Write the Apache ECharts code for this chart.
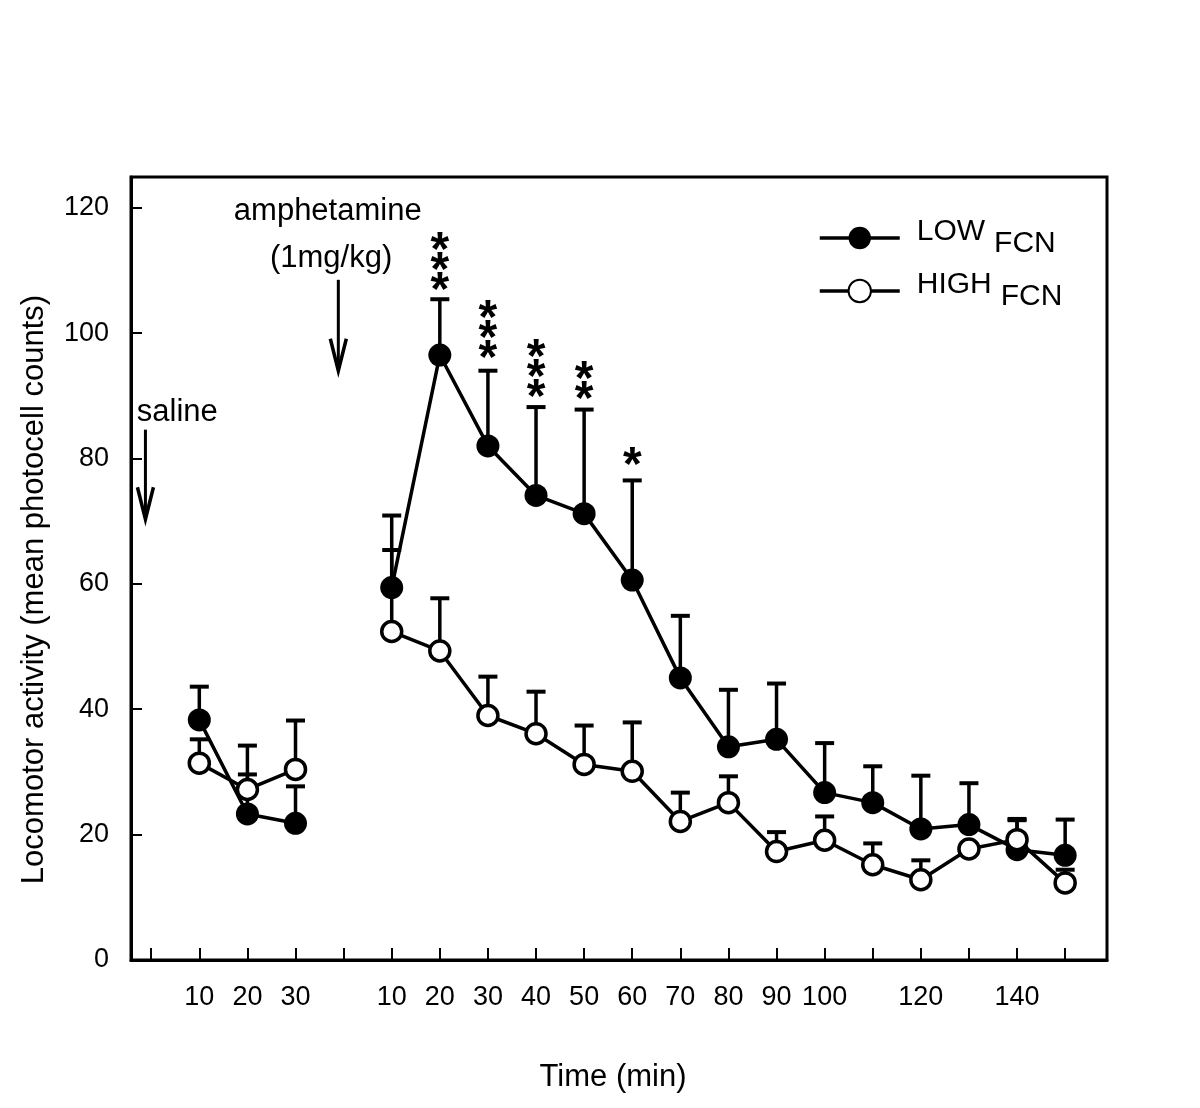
<!DOCTYPE html>
<html>
<head>
<meta charset="utf-8">
<script src="https://cdn.jsdelivr.net/npm/echarts@6/dist/echarts.min.js"></script>
<style>
html,body{margin:0;padding:0;background:#fff;}
#chart{width:1200px;height:1108px;}
</style>
</head>
<body>
<div id="chart"></div>
<script>
// ---------------- DATA ----------------
// x positions on the axis (saline phase 1-3, amphetamine phase 5-19)
const xPos = [1, 2, 3, 5, 6, 7, 8, 9, 10, 11, 12, 13, 14, 15, 16, 17, 18, 19];
// tick label text for tick positions 0..19
const tickLabels = ['', '10', '20', '30', '', '10', '20', '30', '40', '50', '60', '70', '80', '90', '100', '', '120', '', '140', ''];
const yTicks = [0, 20, 40, 60, 80, 100, 120];

const lowMean  = [38.3, 23.3, 21.8, 59.4, 96.5, 82.0, 74.1, 71.2, 60.6, 45.0, 34.0, 35.2, 26.7, 25.1, 20.9, 21.6, 17.6, 16.7];
const lowTop   = [43.6, 29.6, 27.7, 70.9, 105.4, 94.0, 88.2, 87.8, 76.5, 54.9, 43.1, 44.1, 34.6, 30.9, 29.4, 28.2, 22.3, 22.4];
const highMean = [31.4, 27.2, 30.4, 52.4, 49.3, 39.0, 36.1, 31.2, 30.1, 22.1, 25.1, 17.3, 19.1, 15.2, 12.8, 17.7, 19.2, 12.3];
const highTop  = [35.2, 34.2, 38.2, 65.4, 57.7, 45.2, 42.8, 37.4, 37.9, 26.7, 29.3, 20.4, 22.9, 18.6, 15.9, 17.7, 22.5, 14.4];
// significance marks (LOW vs HIGH)
const sigMarks = ['', '', '', '', '***', '***', '***', '**', '*', '', '', '', '', '', '', '', '', ''];
const sigBase  = [0, 0, 0, 0, 108.5, 97.6, 91.5, 91.1, 80.6, 0, 0, 0, 0, 0, 0, 0, 0, 0];

const seriesNames = ['LOW', 'HIGH'];
const nameSub = 'FCN';
const xTitle = 'Time (min)';
const yTitle = 'Locomotor activity (mean photocell counts)';

// ---------------- BUILD ----------------
const FONT = '"Liberation Sans", Arial, sans-serif';
function lineData(means) {
  const out = [];
  xPos.forEach((x, i) => {
    if (i > 0 && x - xPos[i - 1] > 1) out.push([x - 1, '-']);
    out.push([x, means[i]]);
  });
  return out;
}
function errData(means, tops) {
  return xPos.map((x, i) => [x, means[i], tops[i]]);
}
function errRender(params, api) {
  const x = api.value(0);
  const p0 = api.coord([x, api.value(1)]);
  const p1 = api.coord([x, api.value(2)]);
  return {
    type: 'group',
    children: [
      {type: 'line', shape: {x1: p0[0], y1: p0[1], x2: p1[0], y2: p1[1]}, style: {stroke: '#000', lineWidth: 3.5}},
      {type: 'line', shape: {x1: p1[0] - 9.5, y1: p1[1], x2: p1[0] + 9.5, y2: p1[1]}, style: {stroke: '#000', lineWidth: 4}}
    ]
  };
}
const sigData = [];
xPos.forEach((x, i) => { if (sigMarks[i]) sigData.push([x, sigBase[i], sigMarks[i].length]); });

const annotArrows = [[-0.12, 84.6, 70.3], [3.89, 108.5, 94.0]];
const annotTexts = [
  {value: [-0.30, 87.3], text: 'saline', align: 'left'},
  {value: [3.67, 119.4], text: 'amphetamine', align: 'center'},
  {value: [3.74, 111.9], text: '(1mg/kg)', align: 'center'}
];

const chart = echarts.init(document.getElementById('chart'), null, {renderer: 'canvas'});
const option = {
  backgroundColor: '#fff',
  animation: false,
  grid: {left: 131, right: 93, top: 177, bottom: 148, show: true, borderColor: '#000', borderWidth: 3},
  legend: {
    orient: 'vertical',
    left: 813,
    top: 212,
    itemWidth: 80,
    itemHeight: 28,
    itemGap: 11,
    data: seriesNames,
    formatter: function (n) { return '{a|' + n + '}{b|' + nameSub + '}'; },
    lineStyle: {width: 3.5},
    textStyle: {
      fontFamily: FONT, color: '#000',
      rich: {
        a: {fontFamily: FONT, fontSize: 30, color: '#000', lineHeight: 30, verticalAlign: 'top', padding: [0, 9, 0, 12]},
        b: {fontFamily: FONT, fontSize: 30, color: '#000', lineHeight: 42, verticalAlign: 'bottom'}
      }
    }
  },
  xAxis: {
    type: 'value',
    min: -0.42,
    max: 19.87,
    name: xTitle,
    nameLocation: 'middle',
    nameGap: 102,
    nameTextStyle: {fontFamily: FONT, fontSize: 31, color: '#000', padding: [0, 12, 0, 0]},
    axisLine: {show: true, onZero: false, lineStyle: {color: '#000', width: 3}},
    axisTick: {show: true, inside: true, length: 12, lineStyle: {color: '#000', width: 2}, customValues: tickLabels.map((t, i) => i)},
    axisLabel: {
      show: true, margin: 24, fontFamily: FONT, fontSize: 27, color: '#000',
      customValues: tickLabels.map((t, i) => i).filter(i => tickLabels[i] !== ''),
      formatter: function (v) { return tickLabels[Math.round(v)]; }
    },
    splitLine: {show: false}
  },
  yAxis: {
    type: 'value',
    min: 0,
    max: 124.9,
    name: yTitle,
    nameLocation: 'middle',
    nameGap: 81,
    nameTextStyle: {fontFamily: FONT, fontSize: 31, color: '#000', padding: [0, 42, 0, 0]},
    axisLine: {show: true, onZero: false, lineStyle: {color: '#000', width: 3}},
    axisTick: {show: true, inside: true, length: 11, lineStyle: {color: '#000', width: 2}, customValues: yTicks},
    axisLabel: {show: true, margin: 22, fontFamily: FONT, fontSize: 27, color: '#000', customValues: yTicks},
    splitLine: {show: false}
  },
  series: [
    {type: 'custom', name: 'lowErr', data: errData(lowMean, lowTop), renderItem: errRender, z: 2, silent: true},
    {type: 'custom', name: 'highErr', data: errData(highMean, highTop), renderItem: errRender, z: 2, silent: true},
    {
      type: 'line', name: seriesNames[0], data: lineData(lowMean), z: 3,
      symbol: 'circle', symbolSize: 23, showSymbol: true, connectNulls: false,
      lineStyle: {color: '#000', width: 3.5},
      itemStyle: {color: '#000', borderColor: '#000', borderWidth: 0}
    },
    {
      type: 'line', name: seriesNames[1], data: lineData(highMean), z: 4,
      symbol: 'circle', symbolSize: 20, showSymbol: true, connectNulls: false,
      lineStyle: {color: '#000', width: 3.5},
      itemStyle: {color: '#fff', borderColor: '#000', borderWidth: 3.5}
    },
    {
      type: 'custom', name: 'sig', data: sigData, z: 5, silent: true,
      renderItem: function (params, api) {
        const p = api.coord([api.value(0), api.value(1)]);
        const n = api.value(2);
        const kids = [];
        for (let k = 0; k < n; k++) {
          kids.push({type: 'text', x: p[0], y: p[1] - k * 20 + 12,
            style: {text: '*', fontFamily: FONT, fontSize: 48, fontWeight: 'bold', fill: '#000', align: 'center', verticalAlign: 'middle'}});
        }
        return {type: 'group', children: kids};
      }
    },
    {
      type: 'custom', name: 'arrows', data: annotArrows, z: 5, silent: true,
      renderItem: function (params, api) {
        const a = api.coord([api.value(0), api.value(1)]);
        const b = api.coord([api.value(0), api.value(2)]);
        return {type: 'group', children: [
          {type: 'line', shape: {x1: a[0], y1: a[1], x2: b[0], y2: b[1] - 2}, style: {stroke: '#000', lineWidth: 3}},
          {type: 'polyline', shape: {points: [[b[0] - 8, b[1] - 32], [b[0], b[1]], [b[0] + 8, b[1] - 32]]}, style: {stroke: '#000', lineWidth: 3.5, fill: null}}
        ]};
      }
    },
    {
      type: 'custom', name: 'notes', data: annotTexts, z: 5, silent: true,
      renderItem: function (params, api) {
        const item = annotTexts[params.dataIndex];
        const p = api.coord(item.value);
        return {type: 'text', x: p[0], y: p[1],
          style: {text: item.text, fontFamily: FONT, fontSize: 31, fill: '#000', align: item.align, verticalAlign: 'middle'}};
      }
    }
  ]
};
chart.setOption(option);
</script>
</body>
</html>
